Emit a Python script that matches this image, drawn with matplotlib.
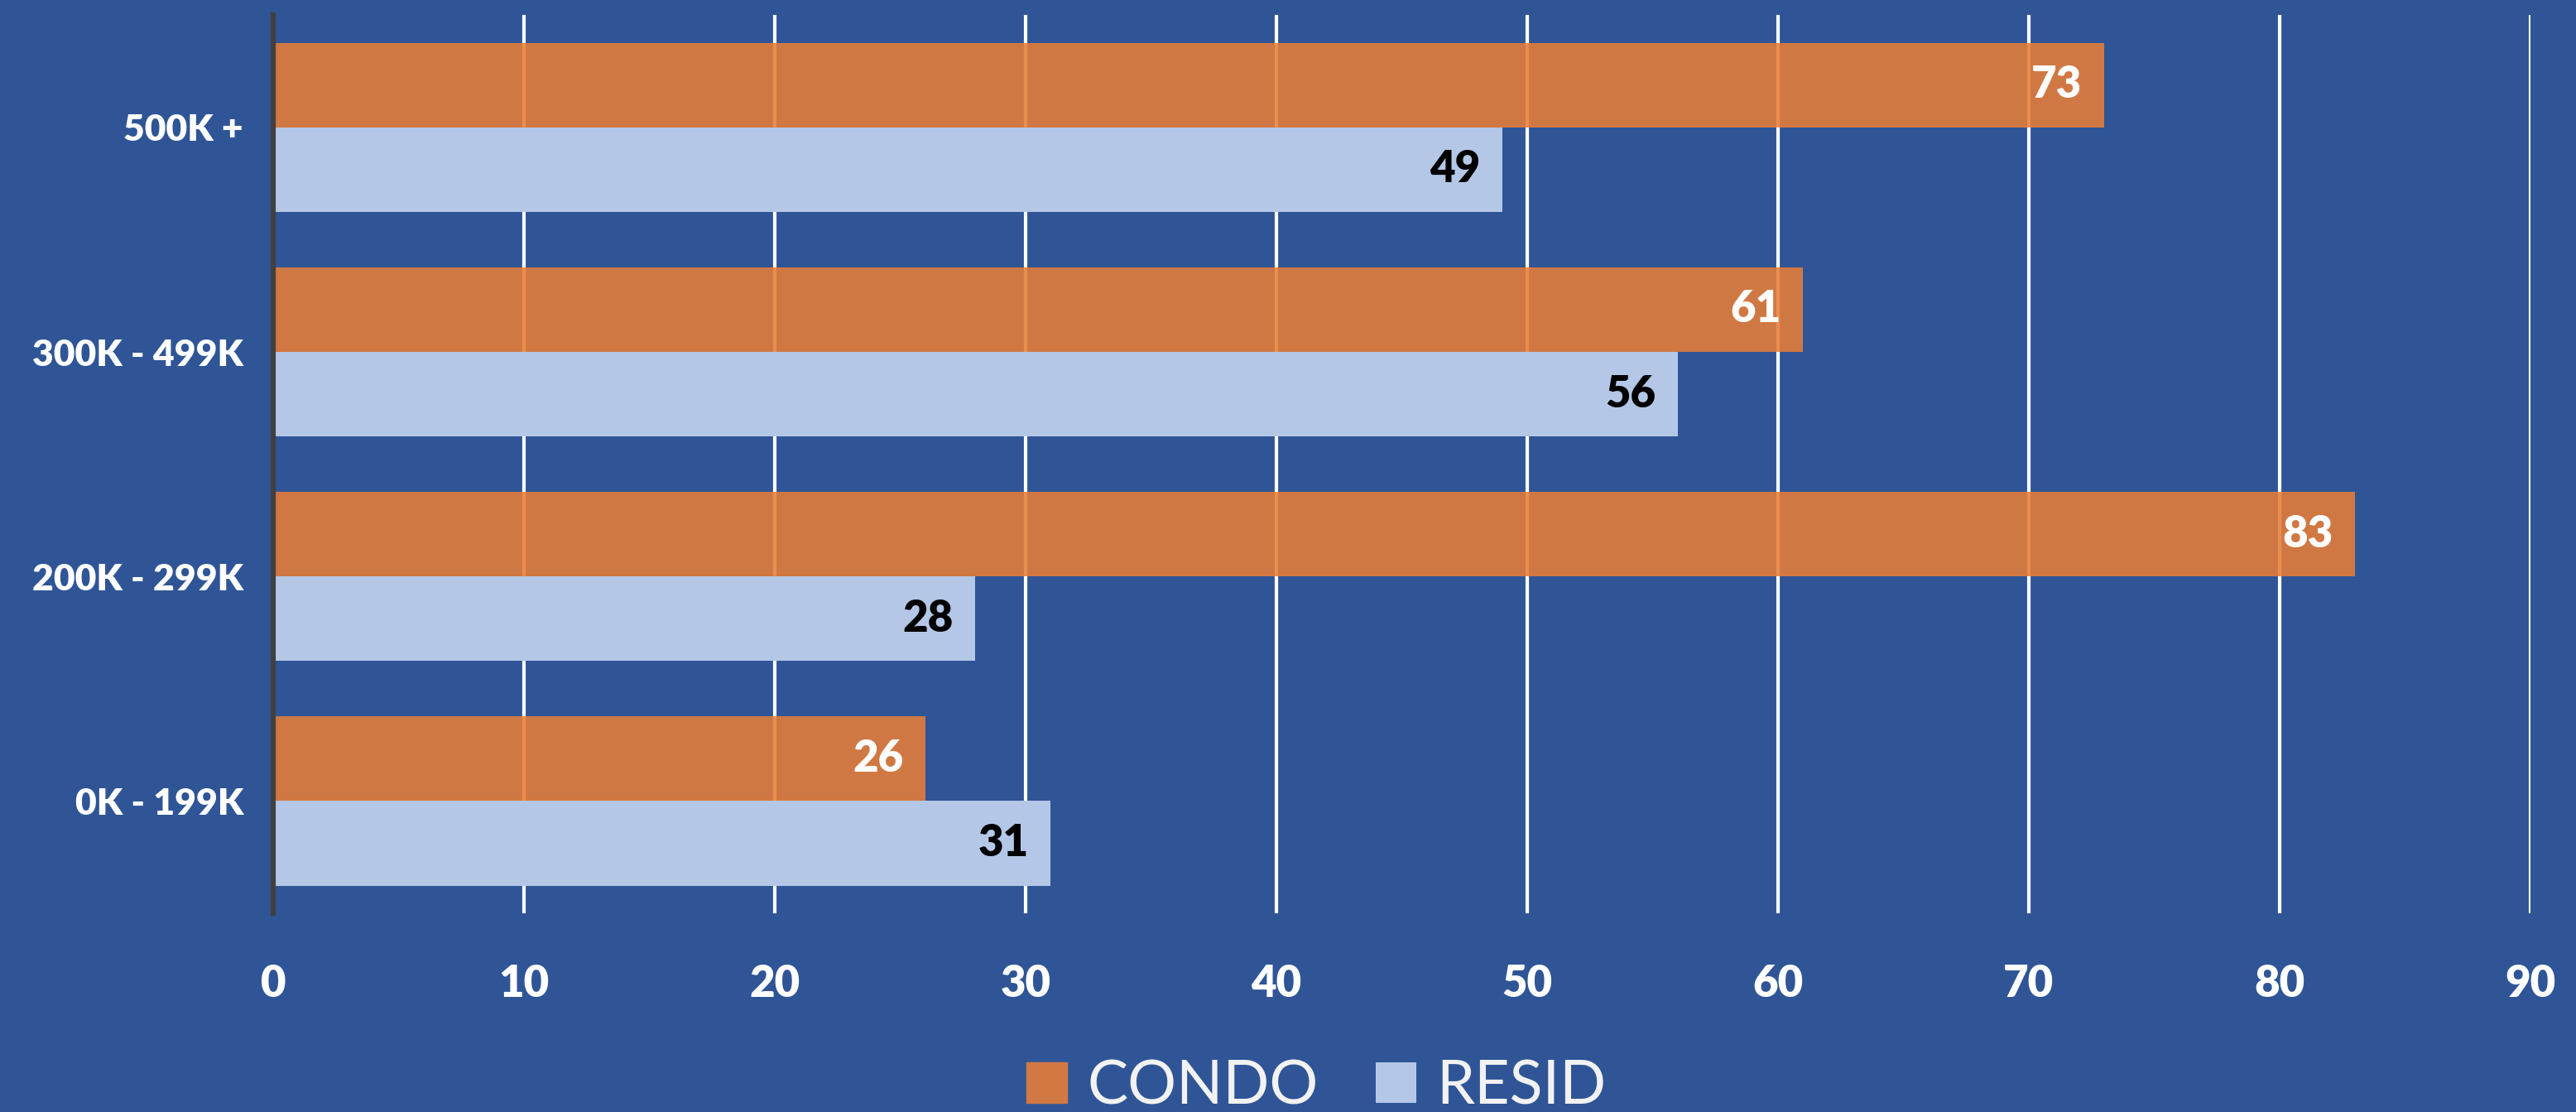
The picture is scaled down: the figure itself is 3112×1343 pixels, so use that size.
import matplotlib.pyplot as plt
import numpy as np

# data
categories = ['0K - 199K', '200K - 299K', '300K - 499K', '500K +']
condo = [26, 83, 61, 73]
resid = [31, 28, 56, 49]
xticks = [0, 10, 20, 30, 40, 50, 60, 70, 80, 90]

bg = '#2F5597'
plt.rcParams['font.family'] = ['Lato', 'DejaVu Sans']

fig = plt.figure(figsize=(31.12, 13.43), dpi=100, facecolor=bg)
ax = fig.add_axes([0.106, 0.1787, 0.8763, 0.8077])
ax.set_facecolor(bg)

y = np.arange(len(categories))
h = 0.377
# condo bar is slightly see-through so the grid shows faintly
b1 = ax.barh(y + h / 2, condo, height=h, color='#E77D38', alpha=0.88, label='CONDO', zorder=2)
b2 = ax.barh(y - h / 2, resid, height=h, color='#B4C7E7', label='RESID', zorder=2)

for bars, vals, col in [(b1, condo, 'white'), (b2, resid, 'black')]:
    for rect, v in zip(bars, vals):
        ax.annotate(str(v), (v, rect.get_y() + rect.get_height() / 2),
                    xytext=(-19, 0), textcoords='offset points',
                    ha='right', va='center', fontsize=38, fontweight='heavy',
                    color=col, zorder=3)

ax.set_xlim(0, 90)
ax.set_ylim(-0.5, 3.5)
ax.set_xticks(xticks)
ax.set_yticks(y)
ax.set_yticklabels(categories)
ax.grid(axis='x', color='white', linewidth=3, zorder=1)
ax.set_axisbelow(True)
ax.tick_params(axis='both', length=0, colors='white', labelsize=38)
ax.tick_params(axis='x', pad=44)
ax.tick_params(axis='y', pad=26, labelsize=32)
for lab in ax.get_xticklabels() + ax.get_yticklabels():
    lab.set_fontweight('heavy')

for s in ['top', 'right', 'bottom']:
    ax.spines[s].set_visible(False)
ax.spines['left'].set_color('#404040')
ax.spines['left'].set_linewidth(4.5)
ax.spines['left'].set_zorder(4)

leg = fig.legend(handles=[b1, b2], loc='center', bbox_to_anchor=(0.511, 0.0223),
                 ncol=2, frameon=False, fontsize=53, handlelength=0.66,
                 handleheight=0.64, handletextpad=0.33, columnspacing=0.95)
for t in leg.get_texts():
    t.set_color('#F2F2F2')
for hnd in leg.legend_handles:
    hnd.set_alpha(1)
leg.legend_handles[0].set_color('#D17843')

fig.savefig('out.png', dpi=100, facecolor=bg)
